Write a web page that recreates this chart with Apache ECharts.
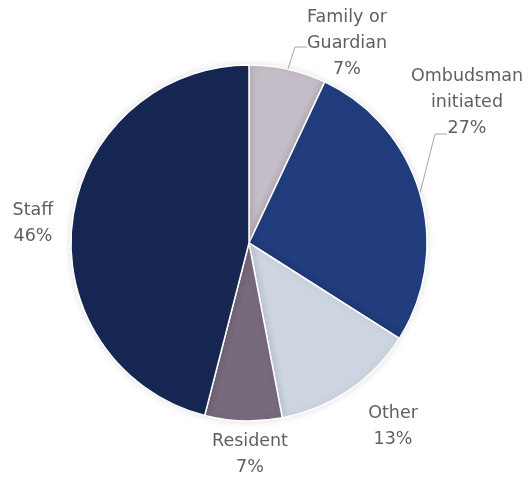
<!DOCTYPE html>
<html>
<head>
<meta charset="utf-8">
<script src="https://cdn.jsdelivr.net/npm/echarts@6/dist/echarts.min.js"></script>
<style>
  html, body { margin: 0; padding: 0; background: #ffffff; }
  #chart { width: 529px; height: 480px; }
</style>
</head>
<body>
<div id="chart"></div>
<script>
// Complaint sources, clockwise from 12 o'clock
const categories = ['Family or\nGuardian', 'Ombudsman\ninitiated', 'Other', 'Resident', 'Staff'];
const shares = [7, 27, 13, 7, 46];
const sliceColors = ['#c4bcc6', '#213d7d', '#cdd5e1', '#786a7d', '#172753'];

// Label anchors (pixel centre of each label block) and which labels get a leader line
const labelSpots = [[347, 43], [467, 102], [393, 426], [250, 454], [33, 223]];
const withLeader = [true, true, false, false, false];
// Leader line geometry: [line y, x where the text starts] for labels with leaders
const leaderEnds = [[47, 307], [134, 447], null, null, null];

const CX = 249, CY = 243, R = 178;
const total = shares.reduce((a, b) => a + b, 0);

// Point on the rim at the middle of slice i (angles clockwise from top)
function rimMid(i) {
  let before = 0;
  for (let k = 0; k < i; k++) before += shares[k];
  const frac = (before + shares[i] / 2) / total;
  const a = frac * Math.PI * 2;
  return [CX + R * Math.sin(a), CY - R * Math.cos(a)];
}

const chart = echarts.init(document.getElementById('chart'), null, { renderer: 'canvas' });

chart.setOption({
  animation: false,
  series: [{
    type: 'pie',
    center: [CX, CY],
    radius: [0, R],
    startAngle: 90,
    clockwise: true,
    data: categories.map((name, i) => ({
      name: name,
      value: shares[i],
      itemStyle: { color: sliceColors[i] },
      labelLine: { show: withLeader[i] }
    })),
    itemStyle: {
      borderColor: '#ffffff',
      borderWidth: 1.5,
      shadowBlur: 8,
      shadowColor: 'rgba(0,0,0,0.12)'
    },
    label: {
      show: true,
      position: 'outside',
      formatter: p => p.name + '\n' + p.value + '%',
      color: '#5f5f5f',
      fontFamily: 'DejaVu Sans',
      fontSize: 17.5,
      lineHeight: 26,
      align: 'center',
      overflow: 'none',
      width: 200
    },
    labelLine: {
      show: true,
      lineStyle: { color: '#a6a6a6', width: 1 }
    },
    labelLayout: function (params) {
      const i = params.dataIndex;
      const [lx, ly] = labelSpots[i];
      const out = { x: lx, y: ly, align: 'center', verticalAlign: 'middle' };
      if (withLeader[i]) {
        const rim = rimMid(i);
        const [lineY, textLeft] = leaderEnds[i];
        const elbowX = textLeft - 12;
        out.labelLinePoints = [rim, [elbowX, lineY], [textLeft, lineY]];
      }
      return out;
    }
  }]
});
</script>
</body>
</html>
